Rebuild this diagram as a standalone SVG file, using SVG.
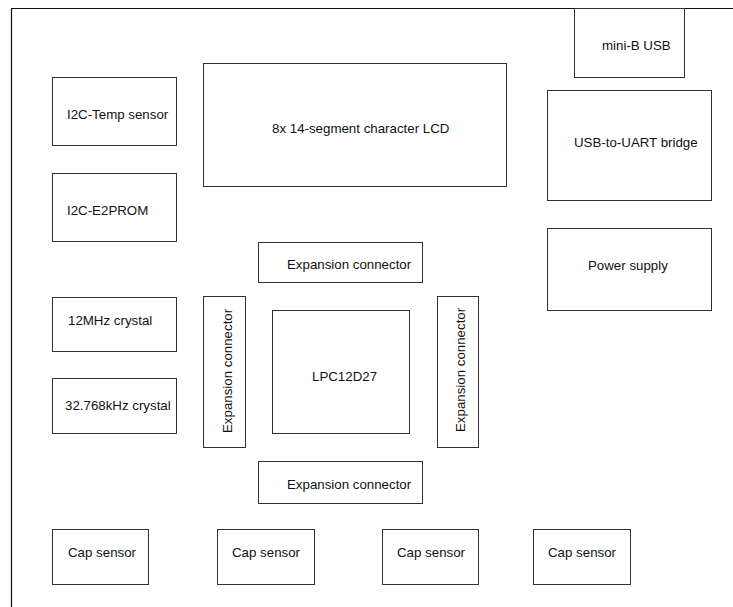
<svg xmlns="http://www.w3.org/2000/svg" width="733" height="607" viewBox="0 0 733 607">
<style>
.b{fill:#fff;stroke:#333;stroke-width:1}
.f{stroke:#111;stroke-width:1.2;fill:none}
text{font-family:"Liberation Sans",Arial,sans-serif;font-size:13.3px;fill:#111}
</style>
<rect width="733" height="607" fill="#fff"/>
<g id="frame"><path class="f" d="M11.5 607V8.5H733"/></g>
<g id="temp"><rect class="b" x="52.5" y="77.5" width="124" height="68"/><text x="67" y="119">I2C-Temp sensor</text></g>
<g id="eeprom"><rect class="b" x="52.5" y="173.5" width="124" height="68"/><text x="67" y="215">I2C-E2PROM</text></g>
<g id="xtal12"><rect class="b" x="52.5" y="297.5" width="124" height="54"/><text x="68" y="325">12MHz crystal</text></g>
<g id="xtal32"><rect class="b" x="52.5" y="378.5" width="124" height="55"/><text x="65" y="410">32.768kHz crystal</text></g>
<g id="lcd"><rect class="b" x="203.5" y="63.5" width="303" height="123"/><text x="272" y="133">8x 14-segment character LCD</text></g>
<g id="usb"><rect class="b" x="574.5" y="8.5" width="110" height="69"/><text x="602" y="50">mini-B USB</text></g>
<g id="bridge"><rect class="b" x="547.5" y="90.5" width="164" height="110"/><text x="574" y="147">USB-to-UART bridge</text></g>
<g id="power"><rect class="b" x="547.5" y="228.5" width="164" height="82"/><text x="588" y="270">Power supply</text></g>
<g id="expTop"><rect class="b" x="258.5" y="242.5" width="164" height="40"/><text x="287" y="269">Expansion connector</text></g>
<g id="expLeft"><rect class="b" x="203.5" y="296.5" width="42" height="151"/><text transform="translate(232 433) rotate(-90)">Expansion connector</text></g>
<g id="mcu"><rect class="b" x="272.5" y="310.5" width="137" height="123"/><text x="312" y="381">LPC12D27</text></g>
<g id="expRight"><rect class="b" x="437.5" y="296.5" width="41" height="151"/><text transform="translate(465 432) rotate(-90)">Expansion connector</text></g>
<g id="expBottom"><rect class="b" x="258.5" y="461.5" width="164" height="42"/><text x="287" y="489">Expansion connector</text></g>
<g id="cap1"><rect class="b" x="52.5" y="529.5" width="96" height="55"/><text x="68" y="557">Cap sensor</text></g>
<g id="cap2"><rect class="b" x="217.5" y="529.5" width="97" height="55"/><text x="232" y="557">Cap sensor</text></g>
<g id="cap3"><rect class="b" x="382.5" y="529.5" width="96" height="55"/><text x="397" y="557">Cap sensor</text></g>
<g id="cap4"><rect class="b" x="533.5" y="529.5" width="97" height="55"/><text x="548" y="557">Cap sensor</text></g>
<g id="connectors"></g>
</svg>
